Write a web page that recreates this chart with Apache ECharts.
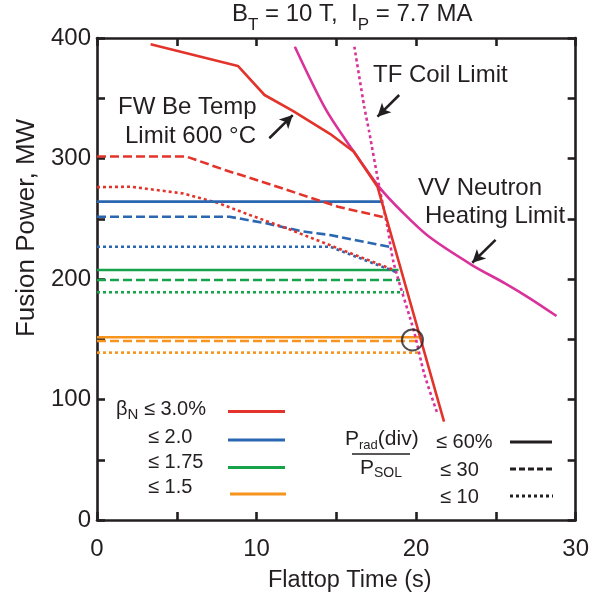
<!DOCTYPE html>
<html><head><meta charset="utf-8">
<script src="https://cdn.jsdelivr.net/npm/echarts@6/dist/echarts.min.js"></script>
<style>html,body{margin:0;padding:0;background:#fff}#c{width:592px;height:601px}</style>
</head><body><div id="c"></div>
<script>
const FONT = '"Liberation Sans", Arial, Helvetica, sans-serif';
const INK = '#231f20';

// ---- tick labels ----
const xLabels = [0, 10, 20, 30];
const yLabels = [0, 100, 200, 300, 400];

// ---- series values: [flattop time (s), fusion power (MW)] ----
const beta30_60 = [[3.36,394.8],[8.83,376.8],[10.5,352.7],[12.3,339.4],[14.6,320.5],[16.1,305.6],[17.58,276.6],[21.75,81.6]];
const beta30_30 = [[0,301.6],[5.6,301.6],[7.9,291],[11.2,277],[15.1,260],[18.0,251.2]];
const beta30_10 = [[0,276.2],[2.1,276.6],[5.4,271],[7.6,263],[9.6,253],[12.1,241],[15.0,226],[18.5,208]];
const beta20_60 = [[0,264.2],[17.9,264.2]];
const beta20_30 = [[0,251.7],[8.3,251.7],[10.6,246.2],[12.9,239.5],[14.6,236.5],[18.5,226.2]];
const beta20_10 = [[0,226.8],[14.6,226.8],[18.7,206]];
const beta175_60 = [[0,207.5],[18.9,207.5]];
const beta175_30 = [[0,199.2],[19.0,199.2]];
const beta175_10 = [[0,189],[19.25,189]];
const beta15_60 = [[0,151.6],[20.2,151.6]];
const beta15_30 = [[0,148.5],[20.0,148.5]];
const beta15_10 = [[0,138.9],[20.2,138.9]];
const vvLimit = [[12.4,392.8],[14.36,340.3],[16.1,305.6],[17.7,276],[19.1,256],[20.8,235.2],[23.5,211.6],[25.6,196.2],[27.1,184.2],[28.8,169.3]];
const tfLimit = [[16.13,392.8],[16.75,343],[17.06,322.2],[17.69,276.6],[18.2,243.4],[18.6,213],[19.9,155],[20.5,121.7],[21.33,88.5]];
const designPoint = [[19.77,149.4]];

// ---- annotation arrows [tail, head] in data units ----
const arrowFW = [[10.8,316.8],[12.27,336]];
const arrowTF = [[18.94,352.7],[17.58,334.7]];
const arrowVV = [[24.98,232.4],[23.52,213.5]];

// ---- texts ----
const titleParts = ['B','T',' = 10 T,  I','P',' = 7.7 MA'];
const xName = 'Flattop Time (s)';
const yName = 'Fusion Power, MW';
const annFW = ['FW Be Temp','Limit 600 °C'];
const annTF = 'TF Coil Limit';
const annVV = ['VV Neutron','Heating Limit'];
const betaLabels = ['≤ 3.0%','≤ 2.0','≤ 1.75','≤ 1.5'];
const fracLabels = ['≤ 60%','≤ 30','≤ 10'];

const RED = '#e3342b', BLUE = '#2b66b1', GREEN = '#17a34a', ORANGE = '#f7941d', MAG = '#d9329a';
const DASH = [9,4], DOT = [3,3];

function line(name, data, color, dash, extra) {
  return Object.assign({
    name, type: 'line', data, showSymbol: false, symbol: 'none', silent: true,
    lineStyle: { color, width: 2.6, type: dash || 'solid', cap: 'butt' },
    z: 3, animation: false
  }, extra || {});
}

const series = [
  line('b15_10', beta15_10, ORANGE, DOT),
  line('b15_30', beta15_30, ORANGE, DASH),
  line('b15_60', beta15_60, ORANGE),
  line('b175_10', beta175_10, GREEN, DOT),
  line('b175_30', beta175_30, GREEN, DASH),
  line('b175_60', beta175_60, GREEN),
  line('b20_10', beta20_10, BLUE, DOT),
  line('b20_30', beta20_30, BLUE, DASH),
  line('b30_10', beta30_10, RED, DOT),
  line('b20_60', beta20_60, BLUE),
  line('b30_30', beta30_30, RED, DASH),
  line('tf', tfLimit, MAG, DOT, { smooth: 0.25 }),
  line('vv', vvLimit, MAG, null, { smooth: 0.3 }),
  line('b30_60', beta30_60, RED),
  {
    type: 'scatter', data: designPoint, symbol: 'circle', symbolSize: 21, silent: true,
    itemStyle: { color: 'rgba(0,0,0,0)', borderColor: INK, borderWidth: 2 }, z: 5, animation: false,
    markLine: {
      silent: true, animation: false, symbol: ['none', 'arrow'], symbolSize: [10, 13],
      lineStyle: { color: INK, width: 2.5, type: 'solid' }, label: { show: false },
      data: [arrowFW, arrowTF, arrowVV].map(a => [{ coord: a[0] }, { coord: a[1] }])
    }
  }
];

function axisCommon(pos) {
  return {
    type: 'value', position: pos,
    axisLine: { show: true, onZero: false, lineStyle: { color: INK, width: 2.6 } },
    axisTick: { show: true, inside: true, length: 8, lineStyle: { color: INK, width: 2.6 } },
    splitLine: { show: false }
  };
}

const txt = (extra) => ({ type: 'text', silent: true, z: 10, ...extra });
function plain(t, x, y, size, align) {
  return txt({ x, y, style: { text: t, fill: INK, fontSize: size, fontFamily: FONT,
    align: align || 'left', verticalAlign: 'middle', textAlign: align || 'left', textVerticalAlign: 'middle' } });
}
function subRich(parts, x, top, mainSize, subSize, offset) {
  const Lm = mainSize + 4;
  const Ls = Math.max(Lm, 2 * (offset + Lm / 2 + 0.3465 * (mainSize - subSize)));
  let s = '';
  parts.forEach((p, i) => { s += '{' + (i % 2 ? 's' : 'm') + '|' + p + '}'; });
  return txt({ x, y: top, style: {
    text: s, fill: INK, fontFamily: FONT, fontSize: mainSize, align: 'left', verticalAlign: 'top',
    textAlign: 'left', textVerticalAlign: 'top',
    rich: {
      m: { fontSize: mainSize, fontFamily: FONT, fill: INK, color: INK, lineHeight: Lm, verticalAlign: 'top' },
      s: { fontSize: subSize, fontFamily: FONT, fill: INK, color: INK, lineHeight: Ls, verticalAlign: 'middle' }
    } } });
}
function hline(x1, x2, y, color, dash) {
  return { type: 'line', silent: true, z: 10, shape: { x1, y1: y, x2, y2: y },
    style: { stroke: color, lineWidth: 3, lineDash: dash || null } };
}

const graphic = [
  subRich(titleParts, 232, 2, 24, 17, 7),
  plain(xName, 268, 581, 23.5),
  txt({ x: 27, y: 228, rotation: Math.PI / 2, style: { text: yName, fill: INK, fontSize: 26, fontFamily: FONT,
    align: 'center', verticalAlign: 'middle', textAlign: 'center', textVerticalAlign: 'middle' } }),
  plain(annFW[0], 118, 107, 24),
  plain(annFW[1], 125, 136, 24),
  plain(annTF, 373, 75, 24),
  plain(annVV[0], 418, 188, 24),
  plain(annVV[1], 425, 216, 24),
  subRich(['β', 'N', ' ' + betaLabels[0]], 116, 399, 20, 15, 2.3),
  plain(betaLabels[1], 148, 437, 20),
  plain(betaLabels[2], 148, 462, 20),
  plain(betaLabels[3], 148, 487, 20),
  hline(228, 285, 411.5, RED),
  hline(228, 285, 440, BLUE),
  hline(228, 285, 467.5, GREEN),
  hline(230, 286, 494, ORANGE),
  subRich(['P', 'rad', '(div)'], 345, 429, 21, 13, 1),
  { type: 'line', silent: true, z: 10, shape: { x1: 352, y1: 454, x2: 410, y2: 454 }, style: { stroke: INK, lineWidth: 1.5 } },
  subRich(['P', 'SOL'], 360, 458, 21, 14, 0.5),
  plain(fracLabels[0], 436, 442, 20),
  plain(fracLabels[1], 440, 470, 20),
  plain(fracLabels[2], 440, 497, 20),
  hline(510, 552, 442, INK),
  hline(510, 553, 469, INK, [6, 3]),
  hline(510, 553, 496, INK, [3, 3])
];

const chart = echarts.init(document.getElementById('c'), null, { renderer: 'canvas' });
chart.setOption({
  animation: false,
  backgroundColor: '#fff',
  grid: { left: 97, right: 14, top: 38, bottom: 81, containLabel: false },
  xAxis: [
    Object.assign(axisCommon('bottom'), { min: 0, max: 30, interval: 5,
      axisLabel: { show: true, margin: 17, fontSize: 24, color: INK, fontFamily: FONT,
        formatter: v => xLabels.includes(v) ? String(v) : '' } }),
    Object.assign(axisCommon('top'), { min: 0, max: 30, interval: 5, axisLabel: { show: false } })
  ],
  yAxis: [
    Object.assign(axisCommon('left'), { min: 0, max: 400, interval: 50,
      axisLabel: { show: true, margin: 6, fontSize: 24, color: INK, fontFamily: FONT,
        formatter: v => yLabels.includes(v) ? String(v) : '' } }),
    Object.assign(axisCommon('right'), { min: 0, max: 400, interval: 50, axisLabel: { show: false } })
  ],
  series,
  graphic
});
</script>
</body></html>
